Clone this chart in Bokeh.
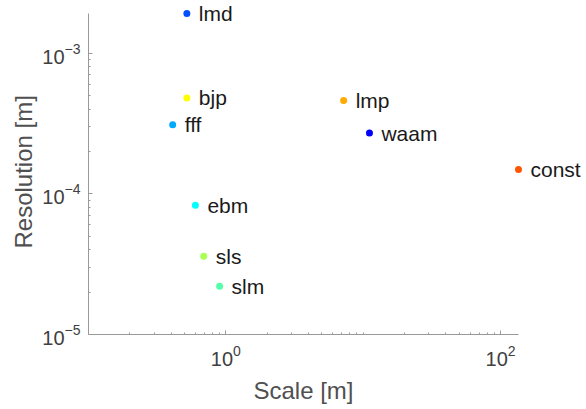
import math
from bokeh.plotting import figure
from bokeh.models import ColumnDataSource, Range1d, FixedTicker, LabelSet, Title
from bokeh.core.properties import value
from bokeh.embed import file_html
from bokeh.resources import INLINE

names = ["lmd", "bjp", "fff", "ebm", "sls", "slm", "lmp", "waam", "const"]
scale = [0.52, 0.52, 0.41, 0.60, 0.69, 0.90, 7.2, 11.1, 135.0]
resolution = [1.91e-3, 4.8e-4, 3.1e-4, 8.3e-5, 3.6e-5, 2.2e-5, 4.6e-4, 2.7e-4, 1.49e-4]
colors = ["#0050ff", "#ffff00", "#00aaff", "#00ffff", "#aaff55", "#55ffaa",
          "#ffaa00", "#0000ff", "#ff5500"]

x_major = [1, 100]
x_minor = [0.2, 0.3, 0.4, 0.5, 0.6, 0.7, 0.8, 0.9, 2, 3, 4, 5, 6, 7, 8, 9,
           10, 20, 30, 40, 50, 60, 70, 80, 90]
y_major = [1e-5, 1e-4, 1e-3]
y_minor = [k * 1e-5 for k in range(2, 10)] + [k * 1e-4 for k in range(2, 10)]

x_title = "Scale [m]"
y_title = "Resolution [m]"

# axis limits (MATLAB-style: tight to data at top/right)
xmin, xmax = 0.1, max(scale)
ymin, ymax = 1e-5, max(resolution)

# layout in pixels
W, H = 586, 409
LEFT, BOTTOM = 88, 75
AX_W = 430   # pixel length of x axis line
AX_H = 321   # pixel length of y axis line
frame_w = W - LEFT
frame_h = H - BOTTOM

# extend the plotting frame beyond the axes so edge markers are not clipped
lx = math.log10(xmax) - math.log10(xmin)
ly = math.log10(ymax) - math.log10(ymin)
x_end = 10 ** (math.log10(xmin) + lx * frame_w / AX_W)
y_end = 10 ** (math.log10(ymin) + ly * frame_h / AX_H)

src = ColumnDataSource(dict(x=scale, y=resolution, name=names, color=colors))

FONT = "Liberation Sans"
AXC = "#999999"

p = figure(width=W, height=H, x_axis_type="log", y_axis_type="log",
           x_range=Range1d(xmin, x_end), y_range=Range1d(ymin, y_end),
           output_backend="svg", toolbar_location=None,
           min_border_left=LEFT, min_border_right=0, min_border_top=0,
           min_border_bottom=BOTTOM)
p.outline_line_color = None
p.grid.visible = False
p.background_fill_color = "white"
p.border_fill_color = "white"

p.scatter("x", "y", source=src, size=7, color="color", line_color=None)
labels = LabelSet(x="x", y="y", text="name", source=src, x_offset=12,
                  text_baseline="middle", text_align="left",
                  text_font=value(FONT), text_font_size="21px", text_color="#1a1a1a")
p.add_layout(labels)

p.xaxis.ticker = FixedTicker(ticks=x_major, minor_ticks=x_minor)
p.yaxis.ticker = FixedTicker(ticks=y_major, minor_ticks=y_minor)
p.xaxis.bounds = (xmin, xmax)
p.yaxis.bounds = (ymin, ymax)

for ax in (p.xaxis, p.yaxis):
    ax.axis_line_color = AXC
    ax.major_tick_line_color = AXC
    ax.minor_tick_line_color = AXC
    ax.major_tick_in = 4
    ax.major_tick_out = 0
    ax.minor_tick_in = 2
    ax.minor_tick_out = 0
    ax.major_label_text_font = FONT
    ax.major_label_text_font_size = "20px"
    ax.major_label_text_color = "#404040"

p.xaxis.major_label_standoff = 10
p.yaxis.major_label_standoff = 8

# axis titles, positioned so they are centred on the axis lines
p.add_layout(Title(text=x_title, align="left", offset=165, standoff=12,
                   text_font=FONT, text_font_size="24px", text_font_style="normal",
                   text_color="#505050"), "below")
p.add_layout(Title(text=y_title, align="left", offset=86, standoff=6,
                   text_font=FONT, text_font_size="24px", text_font_style="normal",
                   text_color="#505050"), "left")

open("out.html", "w").write(file_html(p, INLINE))
